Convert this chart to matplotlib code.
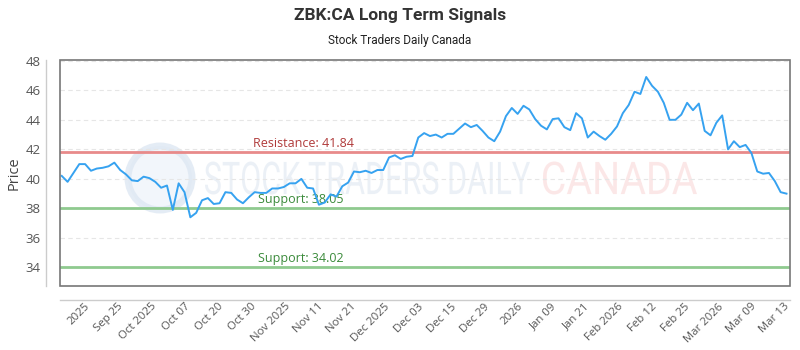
import matplotlib
matplotlib.use("Agg")
import matplotlib.pyplot as plt
from matplotlib.patches import Rectangle, Circle, PathPatch
from matplotlib.textpath import TextPath
from matplotlib.font_manager import FontProperties
from matplotlib.transforms import Affine2D
import numpy as np
from matplotlib import font_manager

prices = [40.2, 39.8, 40.4, 41.0, 41.0, 40.55, 40.7, 40.75, 40.85, 41.1,
          40.6, 40.3, 39.9, 39.85, 40.15, 40.05, 39.8, 39.4, 39.55, 37.9,
          39.7, 39.1, 37.4, 37.7, 38.55, 38.7, 38.3, 38.35, 39.1, 39.05,
          38.6, 38.35, 38.75, 39.1, 39.05, 39.05, 39.35, 39.35, 39.45, 39.7,
          39.7, 40.0, 39.4, 39.35, 38.25, 38.4, 38.95, 38.8, 39.5, 39.75,
          40.5, 40.45, 40.55, 40.4, 40.6, 40.6, 41.45, 41.6, 41.35, 41.5,
          41.55, 42.8, 43.1, 42.9, 43.0, 42.8, 43.05, 43.05, 43.4, 43.75,
          43.5, 43.65, 43.25, 42.8, 42.55, 43.2, 44.25, 44.8, 44.4, 44.95,
          44.7, 44.05, 43.6, 43.35, 44.05, 44.1, 43.5, 43.3, 44.45, 44.1,
          42.8, 43.2, 42.9, 42.65, 43.05, 43.55, 44.45, 45.0, 45.9, 45.75,
          46.9, 46.3, 45.9, 45.15, 44.0, 44.0, 44.35, 45.15, 44.65, 45.1,
          43.25, 42.95, 43.8, 44.3, 42.0, 42.55, 42.15, 42.3, 41.75, 40.5,
          40.35, 40.4, 39.85, 39.1, 39.0]

tick_labels = ["2025", "Sep 25", "Oct 2025", "Oct 07", "Oct 20", "Oct 30",
               "Nov 2025", "Nov 11", "Nov 21", "Dec 2025", "Dec 03", "Dec 15",
               "Dec 29", "2026", "Jan 09", "Jan 21", "Feb 2026", "Feb 12",
               "Feb 25", "Mar 2026", "Mar 09", "Mar 13"]

resistance = [41.84]
supports = [38.05, 34.02]

avail = {f.name for f in font_manager.fontManager.ttflist}
tickfont = "Open Sans" if "Open Sans" in avail else "DejaVu Sans"
titlefont = "Roboto" if "Roboto" in avail else "DejaVu Sans"

fig = plt.figure(figsize=(8, 3.5), dpi=100)
ax = fig.add_axes([0.075, 0.183, 0.9125, 0.6456])

for side in ["top", "right"]:
    ax.spines[side].set_visible(False)
for side in ["left", "bottom"]:
    ax.spines[side].set_position(("outward", 10))
    ax.spines[side].set_color("#cccccc")
    ax.spines[side].set_linewidth(1)

x = np.arange(len(prices))


def watermark(txt, x0, ycen, width, height, color, alpha):
    fp = FontProperties(family=titlefont)
    tp = TextPath((0, 0), txt, size=100, prop=fp)
    bb = tp.get_extents()
    tr = (Affine2D().translate(-bb.x0, -bb.y0)
          .scale(width / bb.width, height / bb.height)
          .translate(x0, ycen - height / 2))
    patch = PathPatch(tr.transform_path(tp), transform=None, facecolor=color,
                      edgecolor="none", alpha=alpha, zorder=0)
    ax.add_artist(patch)


# watermark (display pixel coords, origin bottom-left)
watermark("STOCK TRADERS DAILY", 205, 350 - 178, 325, 33, "#d8e2ee", 0.5)
watermark("CANADA", 543, 350 - 178, 154, 33, "#f9d0d0", 0.5)
ax.add_artist(Circle((160, 350 - 178), 32, transform=None, facecolor="#eef3fa",
                     edgecolor="#dce6f2", linewidth=5, alpha=0.75, zorder=0))

ax.set_xlim(-0.3, len(prices) - 0.4)
ax.set_ylim(32.75, 48.05)

for r in resistance:
    ax.axhline(r, color="#e88a8a", linewidth=2, zorder=2)
    ax.text(41.3, r + 0.12, f"Resistance: {r:.2f}", ha="center", va="bottom",
            color="#b03a3a", fontsize=9, family=tickfont, zorder=3)
for s in supports:
    ax.axhline(s, color="#8fca8f", linewidth=2, zorder=2)
    ax.text(40.9, s + 0.12, f"Support: {s:.2f}", ha="center", va="bottom",
            color="#3a8a3a", fontsize=9, family=tickfont, zorder=3)

ax.plot(x, prices, color="#36a2f0", linewidth=1.4, zorder=4)

ax.set_yticks([34, 36, 38, 40, 42, 44, 46, 48])
ax.yaxis.grid(True, color="#e6e6e6", linestyle=(0, (4, 3)), linewidth=0.8)
ax.set_axisbelow(True)

ticks = np.linspace(3.9, 123.6, len(tick_labels))
ax.set_xticks(ticks)
ax.set_xticklabels(tick_labels, rotation=45, ha="right", rotation_mode="anchor",
                   fontsize=8.2, color="#555555", family=tickfont)
for lab in ax.get_yticklabels():
    lab.set_family(tickfont)
ax.tick_params(axis="y", labelsize=9.5, colors="#555555", length=0, pad=4)
ax.tick_params(axis="x", length=0, pad=1)

ax.add_patch(Rectangle((0, 0), 1, 1, transform=ax.transAxes, fill=False,
                       edgecolor="#777777", linewidth=1.2, clip_on=False, zorder=5))

ax.set_ylabel("Price", fontsize=10.5, color="#444444", family=tickfont)
ax.yaxis.set_label_coords(-0.052, 0.5)

fig.text(0.5, 0.955, "ZBK:CA Long Term Signals", ha="center", va="center",
         fontsize=12.5, fontweight="bold", color="#333333", family=titlefont)
fig.text(0.5, 0.885, "Stock Traders Daily Canada", ha="center", va="center",
         fontsize=8.5, color="#222222", family=titlefont)

fig.savefig("out.png", dpi=100)
